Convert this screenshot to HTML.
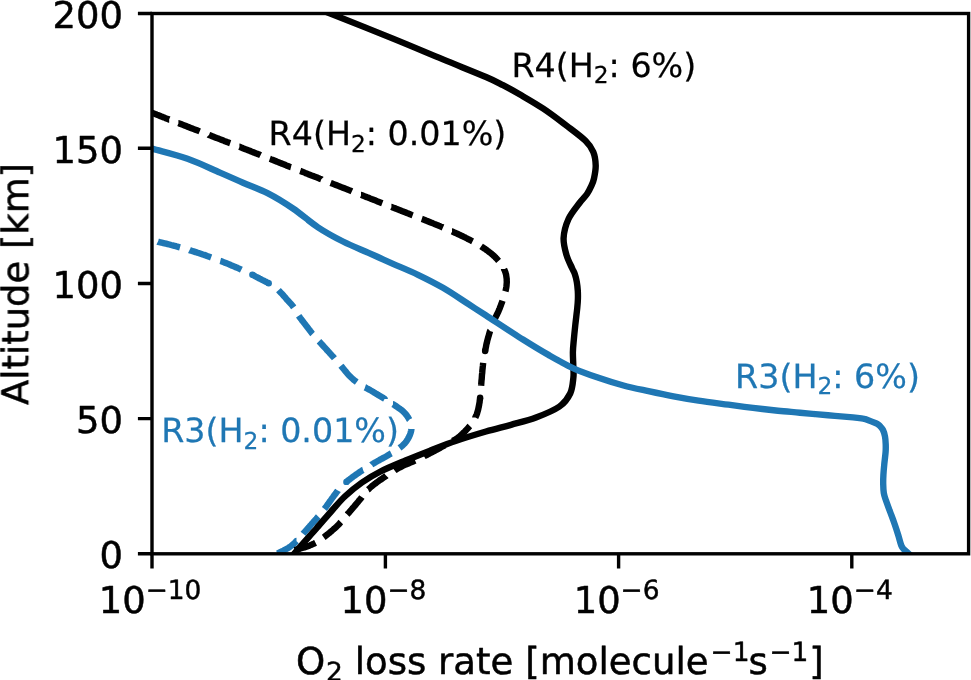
<!DOCTYPE html>
<html lang="en">
<head>
<meta charset="utf-8">
<title>O2 loss rate vs altitude</title>
<style>html,body{margin:0;padding:0;background:#fff;}body{width:971px;height:680px;overflow:hidden;}svg{display:block;}</style>
</head>
<body>
<svg width="971" height="680" viewBox="0 0 971 680" font-family="'DejaVu Sans','Liberation Sans',sans-serif" shape-rendering="geometricPrecision" text-rendering="geometricPrecision">
<rect x="0" y="0" width="971" height="680" fill="#ffffff"/><g opacity="0.999">
<defs><clipPath id="axclip"><rect x="152.00" y="13.50" width="816.60" height="540.30"/></clipPath></defs>
<g clip-path="url(#axclip)">
<path d="M157.9 241.7L158.1 241.8L159.1 242.0L160.3 242.3L161.6 242.6L163.0 243.0L164.6 243.3L166.1 243.7L167.7 244.1L169.4 244.5L171.1 245.0L172.7 245.4L174.4 245.8L176.0 246.2L177.5 246.7L178.9 247.1L180.0 247.4M189.5 250.1L189.9 250.3L191.3 250.7L192.8 251.2L194.2 251.6L195.7 252.1L197.1 252.6L198.6 253.0L200.0 253.5L201.4 254.0L202.8 254.5L204.2 254.9L205.7 255.4L207.1 256.0L208.5 256.5L210.0 257.0L211.1 257.4M220.3 260.9L220.7 261.0L222.0 261.5L223.5 262.1L225.0 262.7L226.5 263.3L228.0 263.9L229.5 264.5L231.0 265.2L232.4 265.8L233.9 266.4L235.3 267.0L236.6 267.6L237.9 268.1L239.1 268.6L240.2 269.1L241.2 269.6L241.4 269.7M252.4 274.8L252.8 275.0L254.2 275.7L255.6 276.5L256.9 277.2L258.3 277.9L259.6 278.6L260.9 279.2L262.3 280.0L263.7 280.7L265.1 281.4L266.4 282.0L267.7 282.7L268.7 283.2M278.5 290.2L278.5 290.2L279.5 291.3L280.6 292.4L281.6 293.4L282.5 294.4L283.4 295.5L284.4 296.6L285.4 297.7L286.3 298.9L287.3 300.0L288.3 301.0L289.3 302.1L290.2 303.1L291.2 304.2L292.2 305.3L293.1 306.5L293.7 307.3M298.7 315.8L298.7 315.8L299.5 317.0L300.4 318.2L301.3 319.3L302.1 320.5L303.1 321.6L304.0 322.8L305.0 324.1L305.8 325.2L306.7 326.3L307.6 327.5L308.5 328.8L309.5 330.0L310.4 331.2L311.3 332.3L312.1 333.4L312.6 333.9M319.0 341.3L319.1 341.4L319.8 342.2L320.6 343.1L321.5 344.0L322.4 345.0L323.3 346.0L324.3 347.1L325.3 348.2L326.4 349.4L327.4 350.6L328.5 351.7L329.6 352.9L330.7 354.2L331.8 355.4L332.9 356.6L334.0 357.7L334.4 358.2M340.9 365.7L340.9 365.7L341.9 366.9L342.8 368.0L343.8 369.2L344.7 370.4L345.7 371.5L346.6 372.7L347.6 373.8L348.6 374.9L349.6 375.9L350.7 377.0L351.7 378.0L352.8 379.0L353.9 379.9L355.1 380.9L356.3 381.8L356.7 382.1M365.0 387.3L365.3 387.4L366.6 388.2L367.9 388.9L369.2 389.6L370.4 390.3L371.7 391.0L372.9 391.7L374.1 392.5L375.4 393.3L376.8 394.1L378.1 394.9L379.5 395.7L380.8 396.5L382.1 397.3L383.4 398.1L384.7 398.8L384.7 398.9M393.0 404.2L393.1 404.2L394.5 405.1L395.8 406.0L397.1 406.9L398.4 407.8L399.6 408.6L400.8 409.5L402.0 410.4L403.1 411.4L404.1 412.3L405.0 413.3L405.9 414.4L406.9 415.6L407.7 416.9L408.6 418.2L409.3 419.6L409.4 419.7M411.4 429.1L411.4 429.3L411.2 430.6L410.8 432.1L410.4 433.5L409.9 434.9L409.3 436.3L408.6 437.7L407.8 439.1L407.0 440.4L406.1 441.7L405.2 442.8L404.3 443.8L403.3 444.8L402.3 445.8L401.1 446.7L399.9 447.6L399.5 447.9M391.3 453.3L390.9 453.5L389.7 454.3L388.5 455.0L387.2 455.8L386.0 456.5L384.7 457.2L383.4 457.9L382.1 458.6L380.8 459.3L379.5 460.1L378.2 460.8L376.9 461.5L375.6 462.2L374.3 463.0L373.0 463.8L371.7 464.5L371.5 464.7M363.1 469.9L362.8 470.0L361.6 470.8L360.3 471.7L359.1 472.5L357.9 473.3L356.7 474.2L355.5 475.0L354.3 475.9L353.1 476.7L352.0 477.6L350.8 478.4L349.7 479.3L348.6 480.1L347.5 481.0L346.4 481.9L346.4 481.9M337.9 490.5L337.8 490.7L336.8 491.9L335.9 493.2L334.9 494.5L333.9 495.8L333.0 497.1L332.0 498.4L331.1 499.7L330.2 501.0L329.3 502.2L328.5 503.4L327.7 504.5L326.9 505.6L326.2 506.6L325.5 507.5L324.4 508.9M318.2 516.5L318.0 516.7L317.2 517.7L316.3 518.8L315.3 519.9L314.2 521.1L313.2 522.3L312.1 523.5L311.0 524.8L309.9 526.0L308.9 527.2L307.9 528.3L307.0 529.4L306.1 530.4L305.0 531.6L303.8 532.9L303.1 533.8M296.5 541.0L296.4 541.0L295.4 542.1L294.5 543.1L293.4 544.1L292.3 545.0L291.1 546.0L289.7 547.0L288.6 547.7L287.4 548.4L286.2 549.1L284.9 549.8L283.5 550.6L282.1 551.3L280.7 551.9L279.3 552.6L277.9 553.3L277.5 553.5M268.4 557.2L268.0 557.4L266.5 557.9L265.1 558.4L263.9 558.8L262.8 559.2L262.0 559.5" fill="none" stroke="#1f77b4" stroke-width="6.40" stroke-linejoin="round" stroke-linecap="butt"/><circle cx="252.38" cy="274.78" r="3.20" fill="#1f77b4"/><circle cx="268.73" cy="283.20" r="3.20" fill="#1f77b4"/><circle cx="346.37" cy="481.91" r="3.20" fill="#1f77b4"/>
<path d="M120.0 100.0L120.2 100.1L120.9 100.4L121.7 100.7L122.4 101.0L123.2 101.3L124.0 101.6L124.9 102.0L125.8 102.4L126.8 102.7L127.8 103.2L128.9 103.6L130.1 104.1L131.4 104.6L132.7 105.2L134.2 105.8L135.8 106.4L137.5 107.1L138.8 107.6M147.9 111.2L148.6 111.5L151.1 112.5L152.6 113.0L153.6 113.4L154.6 113.8L155.7 114.2L156.8 114.7L157.9 115.1L159.0 115.5L160.2 116.0L161.4 116.5L162.6 116.9L163.9 117.4L165.1 117.9L166.4 118.4L167.8 118.9L169.1 119.5L169.2 119.5M178.4 123.1L178.5 123.1L180.0 123.7L181.5 124.3L183.0 124.9L184.5 125.5L186.1 126.1L187.6 126.7L189.1 127.3L190.7 127.9L192.3 128.5L193.8 129.1L195.4 129.7L197.0 130.3L198.5 130.9L199.7 131.4M208.9 134.9L209.0 135.0L210.6 135.6L212.1 136.2L213.6 136.8L215.2 137.4L216.7 138.0L218.2 138.5L219.7 139.1L221.2 139.7L222.7 140.3L224.2 140.9L225.6 141.4L227.0 142.0L228.5 142.5L229.9 143.1L230.2 143.2M239.4 146.8L239.5 146.8L240.7 147.3L241.8 147.7L243.0 148.2L244.8 148.9L246.5 149.6L248.1 150.2L249.7 150.8L251.3 151.5L252.8 152.1L254.3 152.6L255.7 153.2L257.1 153.7L258.5 154.3L259.8 154.8L260.6 155.2M269.8 158.8L270.1 158.9L271.3 159.4L272.4 159.8L273.6 160.3L274.8 160.8L276.0 161.3L277.2 161.8L278.5 162.2L279.7 162.7L281.0 163.2L282.2 163.8L283.6 164.3L284.9 164.8L286.3 165.4L287.7 165.9L289.1 166.5L290.6 167.1L291.0 167.2M300.2 170.9L300.5 171.0L301.6 171.5L302.8 171.9L304.0 172.4L305.2 172.9L306.5 173.4L307.7 173.9L309.0 174.4L310.3 174.9L311.6 175.4L313.0 175.9L314.3 176.5L315.7 177.0L317.1 177.5L318.5 178.1L319.9 178.7L321.3 179.2L321.4 179.3M330.6 182.9L330.6 182.9L332.2 183.5L333.7 184.1L335.2 184.7L336.7 185.3L338.2 185.9L339.8 186.5L341.3 187.1L342.9 187.7L344.4 188.3L345.9 188.9L347.5 189.5L349.0 190.1L350.6 190.7L351.9 191.3M361.0 194.9L361.2 194.9L362.7 195.5L364.2 196.1L365.7 196.7L367.1 197.3L368.6 197.8L370.0 198.4L371.5 199.0L372.9 199.5L374.3 200.1L375.7 200.6L377.0 201.2L378.4 201.7L379.7 202.2L381.0 202.8L382.3 203.3M391.4 206.9L391.5 206.9L392.6 207.4L394.3 208.0L396.2 208.8L398.1 209.5L399.9 210.2L401.7 211.0L403.5 211.6L405.2 212.3L406.9 213.0L408.5 213.6L410.1 214.3L411.6 214.9L412.7 215.3M421.8 218.9L422.1 219.0L423.4 219.5L424.7 220.0L425.9 220.5L427.2 221.0L428.4 221.5L429.6 222.0L430.8 222.5L432.0 222.9L433.1 223.4L434.3 223.9L435.4 224.3L436.5 224.8L437.6 225.2L438.7 225.7L439.8 226.1L440.9 226.6L441.9 227.0L443.0 227.5L443.0 227.5M452.0 231.4L452.1 231.4L453.6 232.1L455.1 232.8L456.5 233.4L457.8 234.0L459.1 234.6L460.3 235.2L461.5 235.8L462.7 236.3L463.8 236.9L465.0 237.4L466.1 238.0L467.1 238.5L468.2 239.1L469.3 239.6L470.6 240.3L472.2 241.2L472.6 241.4M481.1 246.3L481.4 246.5L482.5 247.3L483.6 248.0L484.7 248.7L485.8 249.5L487.1 250.4L488.3 251.4L489.6 252.3L490.8 253.2L491.9 254.2L493.0 255.1L494.0 256.0L495.1 257.0L496.0 258.0L497.0 259.0L498.0 260.2L498.6 260.9M504.1 269.0L504.1 269.2L504.7 270.5L505.3 271.9L505.7 273.3L506.1 274.7L506.3 276.1L506.5 277.6L506.7 279.0L506.7 280.5L506.8 281.9L506.7 283.3L506.6 284.6L506.5 285.9L506.3 287.3L506.0 288.8L505.7 290.3L505.4 291.4M502.5 300.8L502.4 301.1L501.9 302.6L501.3 304.0L500.8 305.5L500.2 306.9L499.7 308.3L499.2 309.6L498.6 311.0L498.0 312.4L497.3 313.8L496.6 315.2L496.0 316.5L495.3 317.8L494.7 319.2L494.4 319.7M490.1 331.0L490.0 331.1L489.6 332.5L489.2 333.9L488.8 335.3L488.4 336.7L488.0 338.0L487.6 339.5L487.2 341.0L486.9 342.5L486.5 343.9L486.2 345.3L486.0 346.7L485.7 348.1L485.4 349.5L485.1 351.0L485.1 351.0M483.2 362.9L483.2 362.9L483.0 364.4L482.9 365.8L482.7 367.3L482.6 368.7L482.4 370.2L482.3 371.7L482.2 373.1L482.0 374.5L481.9 376.0L481.8 377.5L481.7 379.0L481.5 380.5L481.4 381.9L481.3 383.3L481.2 384.7L481.1 385.7M480.1 397.7L480.1 398.0L479.9 399.5L479.7 400.9L479.6 402.3L479.3 403.6L479.1 405.0L478.8 406.5L478.5 407.9L478.2 409.4L477.8 410.8L477.4 412.2L477.0 413.6L476.5 414.9L475.9 416.3L475.3 417.5L475.3 417.6M469.9 425.9L469.8 426.0L468.8 427.1L467.9 428.2L466.9 429.2L466.0 430.3L465.0 431.3L463.9 432.3L462.9 433.3L461.9 434.2L461.2 434.9L460.5 435.6L459.8 436.4L458.7 437.2L457.0 438.4L455.2 439.5L454.3 440.0L453.3 440.6L452.8 440.9M444.2 445.6L444.1 445.7L442.6 446.5L441.1 447.3L439.7 448.1L438.2 448.9L436.8 449.7L435.4 450.4L434.1 451.1L432.8 451.8L431.6 452.4L430.5 453.0L428.9 453.8L427.4 454.6L425.9 455.4L424.5 456.0L424.0 456.3M415.1 460.5L415.1 460.5L413.8 461.1L412.4 461.8L411.1 462.3L409.7 462.9L408.4 463.5L407.1 464.0L405.7 464.6L404.4 465.1L403.1 465.7L401.8 466.4L400.5 467.1L399.2 467.8L397.9 468.5L396.6 469.2L395.3 470.0L394.6 470.5M386.3 475.8L386.1 476.0L384.8 476.8L383.5 477.7L382.2 478.6L380.9 479.5L379.6 480.3L378.4 481.2L377.3 482.0L376.1 482.9L375.1 483.7L374.0 484.5L372.7 485.5L371.5 486.5L370.4 487.5L369.3 488.5L368.3 489.5L368.1 489.6M361.8 497.1L361.6 497.4L360.7 498.7L359.7 499.8L358.8 500.9L357.9 502.1L356.9 503.2L355.9 504.4L354.9 505.6L353.9 506.8L352.9 507.9L352.0 509.0L351.0 510.2L350.0 511.3L349.1 512.4L348.1 513.4L347.2 514.5L347.1 514.6M340.8 522.1L340.6 522.3L339.7 523.4L338.7 524.5L337.7 525.5L336.6 526.6L335.5 527.6L334.4 528.6L333.3 529.5L332.2 530.5L331.1 531.4L330.0 532.3L328.9 533.3L327.7 534.2L326.6 535.1L325.5 535.9L324.4 536.8L323.7 537.3M315.6 542.8L315.4 542.9L314.0 543.6L312.7 544.2L311.4 544.8L309.9 545.4L308.5 545.9L307.1 546.4L305.6 546.9L304.3 547.4L303.0 547.8L301.3 548.3L299.7 548.8L298.1 549.2L296.6 549.5L295.4 549.8L294.5 550.0" fill="none" stroke="#000000" stroke-width="6.40" stroke-linejoin="round" stroke-linecap="butt"/><circle cx="494.40" cy="319.73" r="3.20" fill="#000000"/><circle cx="485.11" cy="350.99" r="3.20" fill="#000000"/><circle cx="480.12" cy="397.71" r="3.20" fill="#000000"/>
<path d="M303.50 3.00C307.75 4.67 314.08 7.07 329.00 13.00C343.92 18.93 374.00 30.87 393.00 38.60C412.00 46.33 427.50 53.00 443.00 59.40C458.50 65.80 476.00 72.70 486.00 77.00C496.00 81.30 497.33 82.27 503.00 85.20C508.67 88.13 513.28 90.68 520.00 94.60C526.72 98.52 535.47 103.47 543.30 108.70C551.13 113.93 559.97 120.65 567.00 126.00C574.03 131.35 581.12 136.47 585.50 140.80C589.88 145.13 591.60 147.88 593.30 152.00C595.00 156.12 595.58 161.08 595.70 165.50C595.82 169.92 594.73 175.08 594.00 178.50C593.27 181.92 592.47 183.42 591.30 186.00C590.13 188.58 588.97 191.17 587.00 194.00C585.03 196.83 582.58 198.83 579.50 203.00C576.42 207.17 571.15 213.17 568.50 219.00C565.85 224.83 563.93 232.00 563.60 238.00C563.27 244.00 565.10 250.00 566.50 255.00C567.90 260.00 570.62 264.83 572.00 268.00C573.38 271.17 574.00 271.67 574.80 274.00C575.60 276.33 576.30 279.17 576.80 282.00C577.30 284.83 577.62 288.17 577.80 291.00C577.98 293.83 577.98 296.25 577.90 299.00C577.82 301.75 577.73 303.17 577.30 307.50C576.87 311.83 575.88 319.58 575.30 325.00C574.72 330.42 574.20 335.50 573.80 340.00C573.40 344.50 572.98 347.67 572.90 352.00C572.82 356.33 573.22 361.75 573.30 366.00C573.38 370.25 573.92 372.92 573.40 377.50C572.88 382.08 572.52 388.67 570.20 393.50C567.88 398.33 565.20 402.50 559.50 406.50C553.80 410.50 544.08 414.45 536.00 417.50C527.92 420.55 519.33 422.47 511.00 424.80C502.67 427.13 495.25 428.80 486.00 431.50C476.75 434.20 464.75 437.83 455.50 441.00C446.25 444.17 438.83 447.25 430.50 450.50C422.17 453.75 413.83 457.00 405.50 460.50C397.17 464.00 387.75 467.83 380.50 471.50C373.25 475.17 367.90 478.38 362.00 482.50C356.10 486.62 350.03 491.67 345.10 496.25C340.17 500.83 337.12 504.71 332.40 510.00C327.68 515.29 321.57 522.58 316.80 528.00C312.03 533.42 307.33 538.50 303.80 542.50C300.27 546.50 298.05 549.08 295.60 552.00C293.15 554.92 290.18 558.67 289.10 560.00" fill="none" stroke="#000000" stroke-width="6.40" stroke-linejoin="round" stroke-linecap="butt"/>
<path d="M120.00 140.00C125.33 141.45 140.75 145.57 152.00 148.70C163.25 151.83 176.17 154.82 187.50 158.80C198.83 162.78 210.75 168.62 220.00 172.60C229.25 176.58 235.00 179.23 243.00 182.70C251.00 186.17 259.67 189.10 268.00 193.40C276.33 197.70 284.67 202.85 293.00 208.50C301.33 214.15 309.67 221.80 318.00 227.30C326.33 232.80 334.67 237.28 343.00 241.50C351.33 245.72 361.83 249.85 368.00 252.60C374.17 255.35 375.83 256.13 380.00 258.00C384.17 259.87 386.67 261.00 393.00 263.80C399.33 266.60 409.67 270.80 418.00 274.80C426.33 278.80 434.67 282.97 443.00 287.80C451.33 292.63 460.88 299.22 468.00 303.80C475.12 308.38 476.58 309.35 485.75 315.30C494.92 321.25 512.54 332.90 523.00 339.50C533.46 346.10 540.08 350.10 548.50 354.90C556.92 359.70 565.17 364.48 573.50 368.30C581.83 372.12 590.17 374.93 598.50 377.80C606.83 380.67 615.17 383.27 623.50 385.50C631.83 387.73 640.17 389.38 648.50 391.20C656.83 393.02 665.17 394.82 673.50 396.40C681.83 397.98 689.33 399.32 698.50 400.70C707.67 402.08 719.42 403.50 728.50 404.70C737.58 405.90 744.75 406.90 753.00 407.90C761.25 408.90 770.17 409.90 778.00 410.70C785.83 411.50 791.67 411.93 800.00 412.70C808.33 413.47 819.17 414.52 828.00 415.30C836.83 416.08 847.20 416.86 853.00 417.40C858.80 417.94 860.87 418.30 862.80 418.55C864.73 418.80 864.00 418.74 864.60 418.90C865.20 419.06 864.50 418.77 866.40 419.50C868.30 420.23 874.10 422.52 876.00 423.30C877.90 424.08 877.20 423.82 877.80 424.20C878.40 424.58 878.73 424.63 879.60 425.60C880.47 426.57 882.10 428.18 883.00 430.00C883.90 431.82 884.55 434.17 885.00 436.50C885.45 438.83 885.60 441.42 885.70 444.00C885.80 446.58 885.83 448.67 885.60 452.00C885.37 455.33 884.67 460.17 884.30 464.00C883.93 467.83 883.58 471.67 883.40 475.00C883.22 478.33 883.13 481.00 883.20 484.00C883.27 487.00 883.37 490.33 883.80 493.00C884.23 495.67 884.77 496.92 885.80 500.00C886.83 503.08 888.53 507.50 890.00 511.50C891.47 515.50 893.23 520.08 894.60 524.00C895.97 527.92 897.08 531.42 898.20 535.00C899.32 538.58 900.33 543.08 901.30 545.50C902.27 547.92 902.88 548.25 904.00 549.50C905.12 550.75 906.33 551.42 908.00 553.00C909.67 554.58 913.00 558.00 914.00 559.00" fill="none" stroke="#1f77b4" stroke-width="6.40" stroke-linejoin="round" stroke-linecap="butt"/>
</g>
<path d="M152.00 13.50H137.90M152.00 148.30H137.90M152.00 283.45H137.90M152.00 418.60H137.90M152.00 553.80H137.90M152.00 553.80V568.50M385.40 553.80V568.50M618.60 553.80V568.50M851.80 553.80V568.50" stroke="#000" stroke-width="3.40" fill="none"/>
<rect x="152.00" y="13.50" width="816.60" height="540.30" fill="none" stroke="#000" stroke-width="3.40" stroke-linejoin="miter"/>
<g stroke="#000" stroke-width="0.50" stroke-linejoin="round">
<text x="122.90" y="27.80" font-size="36.90" text-anchor="end">200</text>
<text x="122.90" y="162.60" font-size="36.90" text-anchor="end">150</text>
<text x="122.90" y="297.75" font-size="36.90" text-anchor="end">100</text>
<text x="122.90" y="432.90" font-size="36.90" text-anchor="end">50</text>
<text x="122.90" y="568.10" font-size="36.90" text-anchor="end">0</text>
<text x="98.68" y="612.80" font-size="36.90">10<tspan dy="-13.50" font-size="26.40">−10</tspan></text>
<text x="340.47" y="612.80" font-size="36.90">10<tspan dy="-13.50" font-size="26.40">−8</tspan></text>
<text x="573.67" y="612.80" font-size="36.90">10<tspan dy="-13.50" font-size="26.40">−6</tspan></text>
<text x="806.87" y="612.80" font-size="36.90">10<tspan dy="-13.50" font-size="26.40">−4</tspan></text>
<text font-size="37.10"><tspan x="296.00" y="674.20" font-size="37.10">O</tspan><tspan x="325.90" y="680.80" font-size="26.40">2</tspan><tspan x="342.90" y="674.20" font-size="37.10"> loss rate [molecule</tspan><tspan x="710.60" y="660.60" font-size="26.40">−1</tspan><tspan x="748.60" y="674.20" font-size="37.10">s</tspan><tspan x="769.40" y="660.60" font-size="26.40">−1</tspan><tspan x="809.20" y="674.20" font-size="37.10">]</tspan></text>
<text transform="translate(28.30 284.00) rotate(-90)" font-size="36.90" text-anchor="middle">Altitude [km]</text>
</g>
<text x="511.40" y="76.80" font-size="33.30" fill="#000000" stroke="#000000" stroke-width="0.25" stroke-linejoin="round">R4(H<tspan dy="6.20" font-size="23.31">2</tspan><tspan dy="-6.20" font-size="33.30">: 6%)</tspan></text>
<text x="268.60" y="145.30" font-size="33.30" fill="#000000" stroke="#000000" stroke-width="0.25" stroke-linejoin="round">R4(H<tspan dy="6.20" font-size="23.31">2</tspan><tspan dy="-6.20" font-size="33.30">: 0.01%)</tspan></text>
<text x="735.10" y="387.80" font-size="33.30" fill="#1f77b4" stroke="#1f77b4" stroke-width="0.25" stroke-linejoin="round">R3(H<tspan dy="6.20" font-size="23.31">2</tspan><tspan dy="-6.20" font-size="33.30">: 6%)</tspan></text>
<text x="161.20" y="442.40" font-size="33.30" fill="#1f77b4" stroke="#1f77b4" stroke-width="0.25" stroke-linejoin="round">R3(H<tspan dy="6.20" font-size="23.31">2</tspan><tspan dy="-6.20" font-size="33.30">: 0.01%)</tspan></text>
</g></svg>
</body>
</html>
